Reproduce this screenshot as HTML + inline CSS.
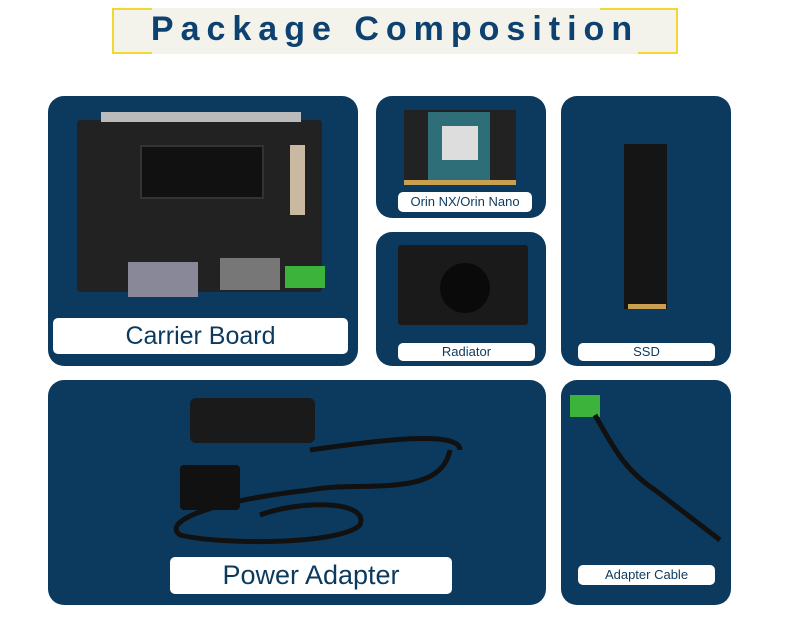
<!DOCTYPE html>
<html><head><meta charset="utf-8"><style>
body{margin:0;width:790px;height:639px;background:#fff;position:relative;overflow:hidden;font-family:"Liberation Sans",sans-serif}
.p{position:absolute;background:#0c3a5f;border-radius:16px}
.l{position:absolute;background:#fff;border-radius:5px;color:#0c3a5f;text-align:center;white-space:nowrap}
.a{position:absolute}
</style></head><body>
<div class="a" style="left:112px;top:8px;width:566px;height:46px;background:#f3f3ec;border:2px solid #f0d830;border-top-color:#f3f3ec;border-bottom-color:#f3f3ec;box-sizing:border-box"></div>
<div class="a" style="left:112px;top:8px;width:40px;height:2px;background:#f0d830"></div>
<div class="a" style="left:600px;top:8px;width:78px;height:2px;background:#f0d830"></div>
<div class="a" style="left:112px;top:52px;width:40px;height:2px;background:#f0d830"></div>
<div class="a" style="left:638px;top:52px;width:40px;height:2px;background:#f0d830"></div>
<div class="a" style="left:112px;top:9px;width:566px;text-align:center;font-size:34px;font-weight:bold;color:#0d4270;letter-spacing:7px;line-height:40px">Package Composition</div>

<div class="p" style="left:48px;top:96px;width:310px;height:270px"></div>
<div class="a" style="left:77px;top:120px;width:245px;height:172px;background:#222;border-radius:3px"></div>
<div class="a" style="left:101px;top:112px;width:200px;height:10px;background:#bbb"></div>
<div class="a" style="left:140px;top:145px;width:120px;height:50px;background:#111;border:2px solid #333"></div>
<div class="a" style="left:290px;top:145px;width:15px;height:70px;background:#c9b9a0"></div>
<div class="a" style="left:285px;top:266px;width:40px;height:22px;background:#3cb43c"></div>
<div class="a" style="left:220px;top:258px;width:60px;height:32px;background:#777"></div>
<div class="a" style="left:128px;top:262px;width:70px;height:35px;background:#889"></div>
<div class="l" style="left:53px;top:318px;width:295px;height:36px;font-size:25px;line-height:36px">Carrier Board</div>

<div class="p" style="left:376px;top:96px;width:170px;height:122px"></div>
<div class="a" style="left:404px;top:110px;width:112px;height:75px;background:#222"></div>
<div class="a" style="left:428px;top:112px;width:62px;height:68px;background:#2e6e78"></div>
<div class="a" style="left:442px;top:126px;width:36px;height:34px;background:#ddd"></div>
<div class="a" style="left:404px;top:180px;width:112px;height:5px;background:#c9a050"></div>
<div class="l" style="left:398px;top:192px;width:134px;height:20px;font-size:13px;line-height:20px">Orin NX/Orin Nano</div>

<div class="p" style="left:376px;top:232px;width:170px;height:134px"></div>
<div class="a" style="left:398px;top:245px;width:130px;height:80px;background:#1a1a1a;border-radius:3px"></div>
<div class="a" style="left:440px;top:263px;width:50px;height:50px;background:#0a0a0a;border-radius:50%"></div>
<div class="l" style="left:398px;top:343px;width:137px;height:18px;font-size:13px;line-height:18px">Radiator</div>

<div class="p" style="left:561px;top:96px;width:170px;height:270px"></div>
<div class="a" style="left:624px;top:144px;width:43px;height:165px;background:#151515"></div>
<div class="a" style="left:628px;top:304px;width:38px;height:5px;background:#c9a050"></div>
<div class="l" style="left:578px;top:343px;width:137px;height:18px;font-size:13px;line-height:18px">SSD</div>

<div class="p" style="left:48px;top:380px;width:498px;height:225px"></div>
<div class="a" style="left:190px;top:398px;width:125px;height:45px;background:#1a1a1a;border-radius:6px"></div>
<div class="a" style="left:180px;top:465px;width:60px;height:45px;background:#111;border-radius:4px"></div>
<svg class="a" style="left:160px;top:420px" width="320" height="130"><path d="M150 30 C 220 20,300 10,300 30 M290 30 C280 80,200 60,150 70 C60 80,0 100,20 115 C60 125,180 125,200 105 C210 80,140 80,100 95" stroke="#111" stroke-width="5" fill="none"/></svg>
<div class="l" style="left:170px;top:557px;width:282px;height:37px;font-size:27px;line-height:37px">Power Adapter</div>

<div class="p" style="left:561px;top:380px;width:170px;height:225px"></div>
<div class="a" style="left:570px;top:395px;width:30px;height:22px;background:#3cb43c"></div>
<svg class="a" style="left:585px;top:410px" width="145" height="135"><path d="M10 5 C30 40,40 60,70 80 L135 130" stroke="#111" stroke-width="5" fill="none"/></svg>
<div class="l" style="left:578px;top:565px;width:137px;height:20px;font-size:13px;line-height:20px">Adapter Cable</div>
</body></html>
